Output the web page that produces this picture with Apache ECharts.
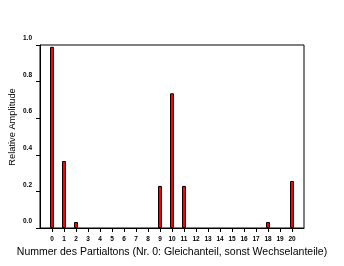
<!DOCTYPE html>
<html><head><meta charset="utf-8">
<script src="https://cdn.jsdelivr.net/npm/echarts@6/dist/echarts.min.js"></script>
<style>html,body{margin:0;padding:0;background:#fff}#c{width:344px;height:266px}</style>
</head><body><div id="c"></div>
<script>
const categories = ['0','1','2','3','4','5','6','7','8','9','10','11','12','13','14','15','16','17','18','19','20'];
const amplitudes = [0.99,0.366,0.033,0,0,0,0,0,0,0.23,0.736,0.23,0,0,0,0,0,0,0.033,0,0.257];
const yTicks = [0,0.2,0.4,0.6,0.8,1.0];
const xTitle = 'Nummer des Partialtons (Nr. 0: Gleichanteil, sonst Wechselanteile)';
const yTitle = 'Relative Amplitude';

const cats = [''].concat(categories, ['']);
const vals = [null].concat(amplitudes.map(v => v === 0 ? null : v), [null]);
const inner = (i) => i > 0 && i < cats.length - 1;
const FONT = 'Liberation Sans, Arial, sans-serif';

const chart = echarts.init(document.getElementById('c'), null, {renderer:'canvas'});
chart.setOption({
  animation:false,
  grid:{left:40,right:40,top:45,bottom:38,show:true,borderColor:'#000',borderWidth:1},
  xAxis:{
    type:'category', data:cats, boundaryGap:false,
    axisLine:{lineStyle:{color:'#000',width:1}},
    axisTick:{show:true,length:4,interval:(i)=>inner(i),lineStyle:{color:'#000'}},
    axisLabel:{interval:(i)=>inner(i),fontFamily:FONT,fontSize:6.5,fontWeight:'bold',color:'#000',margin:8},
    splitLine:{show:false}
  },
  yAxis:{
    type:'value', min:yTicks[0], max:yTicks[yTicks.length-1], interval:0.2,
    axisLine:{show:true,lineStyle:{color:'#000',width:1}},
    axisTick:{show:true,length:4,lineStyle:{color:'#000'}},
    axisLabel:{fontFamily:FONT,fontSize:6.5,fontWeight:'bold',color:'#000',margin:8,
      verticalAlign:'bottom',padding:[0,0,3,0],
      formatter:(v)=>v.toFixed(1)},
    splitLine:{show:false}
  },
  graphic:[
    {type:'text',left:'center',top:247,style:{text:xTitle,font:'10.5px '+FONT,fill:'#000'}},
    {type:'text',x:12,y:127,rotation:Math.PI/2,
      style:{text:yTitle,font:'9.3px '+FONT,fill:'#000',align:'center',verticalAlign:'middle'}}
  ],
  series:[{
    type:'bar', data:vals, barWidth:4,
    itemStyle:{color:'#ff0000',borderColor:'#000',borderWidth:1}
  }]
});
</script></body></html>
